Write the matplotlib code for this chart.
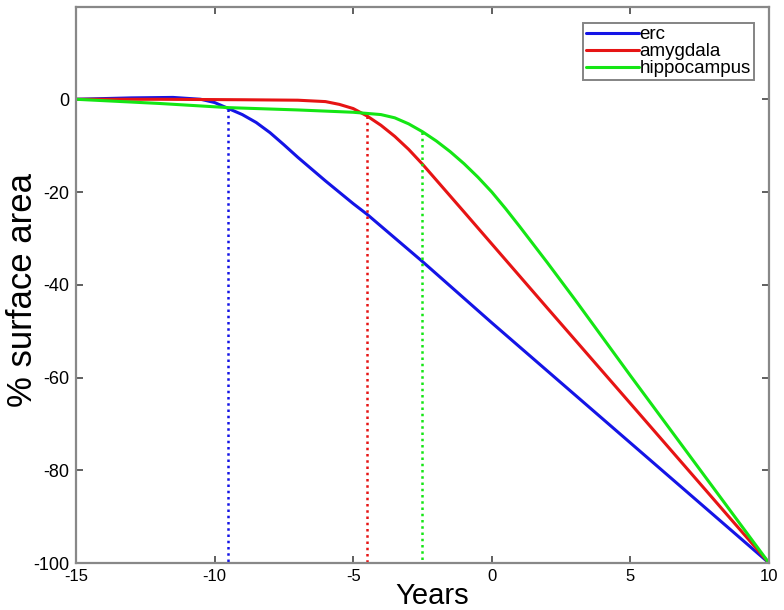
import matplotlib
matplotlib.use("Agg")
import matplotlib.pyplot as plt

# ---- data ----
erc_years = [-15, -13, -11.5, -10.5, -10, -9.5, -9, -8.5, -8, -7.5, -7, -6, -5, -4.5, -2.5, 0, 5, 10]
erc_vals = [0, 0.3, 0.4, 0.0, -0.7, -2.0, -3.3, -5.0, -7.2, -9.8, -12.5, -17.6, -22.5, -24.8, -35.0, -48.2, -74.1, -100]

amy_years = [-15, -12, -9, -7, -6, -5.5, -5, -4.5, -4, -3.5, -3, -2.5, -1, 0, 2, 5, 7.5, 10]
amy_vals = [0, 0, -0.1, -0.2, -0.5, -1.1, -2.0, -3.6, -5.6, -8.0, -10.8, -14.0, -24.3, -31.2, -45.0, -65.6, -82.8, -100]

hip_years = [-15, -12, -9.5, -7, -5, -4, -3.5, -3, -2.5, -2, -1.5, -1, -0.5, 0, 0.5, 1, 2, 3, 5, 7.5, 10]
hip_vals = [0, -0.9, -1.8, -2.3, -2.8, -3.3, -4.0, -5.3, -7.0, -9.0, -11.3, -13.9, -16.8, -20.0, -23.6, -27.4, -35.2, -43.2, -59.6, -79.8, -100]

onset_years = [-9.5, -4.5, -2.5]
onset_vals = [-2.0, -3.6, -7.0]

labels = ["erc", "amygdala", "hippocampus"]
colors = ["#1414e6", "#e61414", "#14e614"]

x_ticks = [-15, -10, -5, 0, 5, 10]
y_ticks = [-100, -80, -60, -40, -20, 0]

plt.rcParams['font.family'] = ['Liberation Sans', 'DejaVu Sans']

fig = plt.figure(figsize=(7.84, 6.10), dpi=100)
ax = fig.add_axes([0.0969, 0.0770, 0.9809 - 0.0969, 0.9893 - 0.0770])

series = [(erc_years, erc_vals), (amy_years, amy_vals), (hip_years, hip_vals)]
for (xs, ys), lab, col in zip(series, labels, colors):
    ax.plot(xs, ys, color=col, lw=2.2, label=lab, solid_capstyle='round')

for xv, yv, col in zip(onset_years, onset_vals, colors):
    ax.plot([xv, xv], [yv, -100], color=col, lw=1.8, linestyle=(0, (1, 1.5)))

ax.set_xlim(-15, 10)
ax.set_ylim(-100, 20)
ax.set_xticks(x_ticks)
ax.set_yticks(y_ticks)
ax.set_xticklabels([str(t) for t in x_ticks], fontsize=12)
ax.set_yticklabels([str(t) for t in y_ticks], fontsize=13)
ax.tick_params(direction='in', top=True, right=True, length=5, width=1.2,
               color='#444444', pad=5)
ax.tick_params(axis='x', pad=4)
for sp in ax.spines.values():
    sp.set_color('#888888')
    sp.set_linewidth(1.6)

ax.set_xlabel("Years", fontsize=21)
ax.xaxis.set_label_coords(0.514, -0.034)
ax.set_ylabel("% surface area", fontsize=25)
ax.yaxis.set_label_coords(-0.053, 0.49)

leg = ax.legend(loc='upper right', bbox_to_anchor=(0.978, 0.970), borderaxespad=0,
                fontsize=13.5, handlelength=2.8, handletextpad=0.05, labelspacing=0.0,
                borderpad=0.15, frameon=True, fancybox=False)
leg.get_frame().set_edgecolor('#666666')
leg.get_frame().set_linewidth(1.4)

fig.savefig("out.png", dpi=100)
